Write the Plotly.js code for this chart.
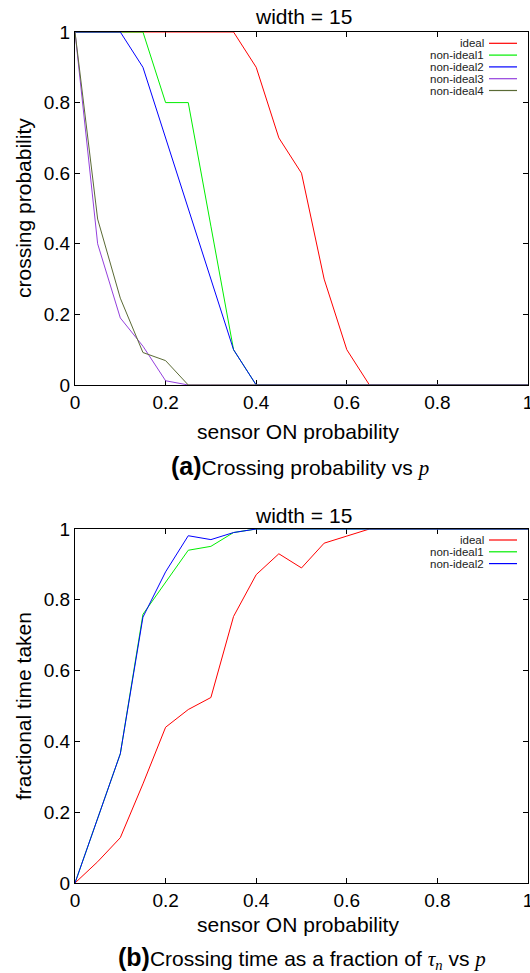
<!DOCTYPE html>
<html>
<head>
<meta charset="utf-8">
<script src="https://cdn.plot.ly/plotly-3.0.1.min.js"></script>
<style>html,body{margin:0;padding:0;background:#fff;overflow:hidden;}#chart{width:530px;height:973px;}</style>
</head>
<body>
<div id="chart"></div>
<script>
// ---------- data ----------
const pValues = [0,0.05,0.1,0.15,0.2,0.25,0.3,0.35,0.4,0.45,0.5,0.55,0.6,0.65,0.7,0.75,0.8,0.85,0.9,0.95,1];

// (a) crossing probability
const crossIdeal    = [1,1,1,1,1,1,1,1,0.9,0.7,0.6,0.3,0.1,0,0,0,0,0,0,0,0];
const crossNonIdeal1= [1,1,1,1,0.8,0.8,0.45,0.1,0,0,0,0,0,0,0,0,0,0,0,0,0];
const crossNonIdeal2= [1,1,1,0.9,0.7,0.5,0.3,0.1,0,0,0,0,0,0,0,0,0,0,0,0,0];
const crossNonIdeal3= [1,0.4,0.19,0.11,0.012,0,0,0,0,0,0,0,0,0,0,0,0,0,0,0,0];
const crossNonIdeal4= [1,0.47,0.246,0.092,0.069,0,0,0,0,0,0,0,0,0,0,0,0,0,0,0,0];

// (b) fractional crossing time
const timeIdeal     = [0,0.06,0.128,0.28,0.44,0.49,0.524,0.753,0.871,0.93,0.89,0.96,0.98,1,1,1,1,1,1,1,1];
const timeNonIdeal1 = [0,0.18,0.365,0.759,0.85,0.94,0.951,0.99,1,1,1,1,1,1,1,1,1,1,1,1,1];
const timeNonIdeal2 = [0,0.18,0.365,0.751,0.879,0.981,0.97,0.99,1,1,1,1,1,1,1,1,1,1,1,1,1];

const namesA = ["ideal","non-ideal1","non-ideal2","non-ideal3","non-ideal4"];
const namesB = ["ideal","non-ideal1","non-ideal2"];
const tickVals = [0,0.2,0.4,0.6,0.8,1];
const tickText = ["0","0.2","0.4","0.6","0.8","1"];

const plotTitle = "width = 15";
const xTitle = "sensor ON probability";
const yTitleA = "crossing probability";
const yTitleB = "fractional time taken";

// ---------- styles ----------
const colors = ["#ff0000","#00ee00","#0000ff","#9440dd","#5a6a35"];
const FONT = "Liberation Sans, Arial, Helvetica, sans-serif";
const SERIF = "Liberation Serif, Times New Roman, serif";

// pixel helpers (plot area: x 75..528, y 32..883)
const L = 75, R = 2, T = 32, B = 90, W = 530, H = 973;
const pw = W - L - R, ph = H - T - B;
const px = X => (X - L) / pw;
const py = Y => (H - B - Y) / ph;

const seriesA = [crossIdeal, crossNonIdeal1, crossNonIdeal2, crossNonIdeal3, crossNonIdeal4];
const seriesB = [timeIdeal, timeNonIdeal1, timeNonIdeal2];

const traces = [];
seriesA.forEach((ys, i) => traces.push({
  x: pValues, y: ys, type: "scatter", mode: "lines", name: namesA[i],
  xaxis: "x", yaxis: "y", line: {color: colors[i], width: 1}, showlegend: false
}));
seriesB.forEach((ys, i) => traces.push({
  x: pValues, y: ys, type: "scatter", mode: "lines", name: namesB[i],
  xaxis: "x2", yaxis: "y2", line: {color: colors[i], width: 1}, showlegend: false
}));

function axis(extra) {
  return Object.assign({
    range: [0, 1], tickvals: tickVals, ticktext: tickText,
    ticks: "inside", ticklen: 5, tickwidth: 1, tickcolor: "#000",
    showline: true, linecolor: "#000", linewidth: 1, mirror: "ticks",
    showgrid: false, zeroline: false, fixedrange: true,
    tickfont: {family: FONT, size: 19, color: "#000"},
    layer: "below traces"
  }, extra);
}

const annotations = [];
const shapes = [];
function addText(X, Y, text, size, extra) {
  annotations.push(Object.assign({
    xref: "paper", yref: "paper", x: px(X), y: py(Y), text: text,
    showarrow: false, xanchor: "center", yanchor: "middle",
    font: {family: FONT, size: size, color: "#000"}
  }, extra || {}));
}
// titles
addText(303, 16, plotTitle, 21);
addText(303, 515, plotTitle, 21);
// x axis titles
addText(298, 431, xTitle, 21);
addText(298, 924, xTitle, 21);
// y axis titles
addText(23, 208, yTitleA, 21, {textangle: -90});
addText(23, 706, yTitleB, 21, {textangle: -90});
// captions
addText(300, 466, '<span style="font-weight:bold;font-size:25px">(a)</span>Crossing probability vs <span style="font-family:' + SERIF + '"><i>p</i></span>', 21);
addText(302, 958, '<span style="font-weight:bold;font-size:25px">(b)</span>Crossing time as a fraction of <span style="font-family:' + SERIF + '"><i>τ</i><sub><i>n</i></sub></span> vs <span style="font-family:' + SERIF + '"><i>p</i></span>', 21);

// legends (text right-aligned, sample line to the right)
function legend(names, y0) {
  names.forEach((n, i) => {
    const Y = y0 + i * 11.8;
    annotations.push({
      xref: "paper", yref: "paper", x: px(486), y: py(Y), text: n, showarrow: false,
      xanchor: "right", yanchor: "middle", font: {family: FONT, size: 11.5, color: "#222"}
    });
    shapes.push({
      type: "line", xref: "paper", yref: "paper",
      x0: px(489), x1: px(517), y0: py(Y), y1: py(Y),
      line: {color: colors[i], width: 1.2}
    });
  });
}
legend(namesA, 43.3);
legend(namesB, 540);

const layout = {
  width: W, height: H,
  margin: {l: L, r: R, t: T, b: B, pad: 0},
  paper_bgcolor: "#fff", plot_bgcolor: "#fff",
  showlegend: false,
  xaxis: axis({domain: [0, 1], anchor: "y", ticklabeloverflow: "allow"}),
  yaxis: axis({domain: [py(385), 1], anchor: "x"}),
  xaxis2: axis({domain: [0, 1], anchor: "y2", ticklabeloverflow: "allow"}),
  yaxis2: axis({domain: [0, py(529)], anchor: "x2"}),
  annotations: annotations,
  shapes: shapes,
  font: {family: FONT, color: "#000"}
};

Plotly.newPlot("chart", traces, layout, {displayModeBar: false, staticPlot: true});
</script>
</body>
</html>
